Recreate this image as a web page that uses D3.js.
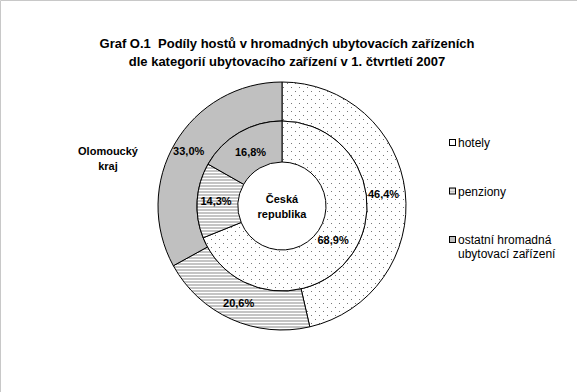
<!DOCTYPE html>
<html><head><meta charset="utf-8">
<script src="https://cdn.jsdelivr.net/npm/d3@7"></script>
<style>body{margin:0;background:#fff}svg{display:block}text{white-space:pre}</style>
</head><body>
<script>
const categories = ["hotely", "penziony", "ostatní hromadná ubytovací zařízení"];
const outerValues = [46.4, 20.6, 33.0];   // Olomoucký kraj
const innerValues = [68.9, 14.3, 16.8];   // Česká republika
const outerLabels = ["46,4%", "20,6%", "33,0%"];
const innerLabels = ["68,9%", "14,3%", "16,8%"];
const titleLines = ["Graf O.1  Podíly hostů v hromadných ubytovacích zařízeních",
                    "dle kategorií ubytovacího zařízení v 1. čtvrtletí 2007"];

const W = 577, H = 392;
const svg = d3.select("body").append("svg").attr("width", W).attr("height", H)
  .style("font-family", "Arial, 'Liberation Sans', sans-serif");

const defs = svg.append("defs");
const dots = defs.append("pattern").attr("id", "dots").attr("patternUnits", "userSpaceOnUse")
  .attr("width", 8).attr("height", 8);
dots.append("rect").attr("width", 8).attr("height", 8).attr("fill", "#fff");
dots.append("rect").attr("x", 1).attr("y", 1).attr("width", 1).attr("height", 1).attr("fill", "#777");
dots.append("rect").attr("x", 5).attr("y", 5).attr("width", 1).attr("height", 1).attr("fill", "#777");
const stripes = defs.append("pattern").attr("id", "stripes").attr("patternUnits", "userSpaceOnUse")
  .attr("width", 8).attr("height", 3);
stripes.append("rect").attr("width", 8).attr("height", 3).attr("fill", "#fff");
stripes.append("rect").attr("y", 0).attr("width", 8).attr("height", 2).attr("fill", "#c4c4c4");

const fills = d3.scaleOrdinal().domain(categories).range(["url(#dots)", "url(#stripes)", "#c0c0c0"]);

// border
svg.append("path").attr("d", `M0.5,${H} V0.5 H${W}`).attr("fill", "none").attr("stroke", "#c8c8c8");

// title
svg.append("text").attr("x", 287).attr("text-anchor", "middle")
  .style("font-weight", "bold").style("font-size", "13px")
  .selectAll("tspan").data(titleLines).join("tspan")
  .attr("x", 287).attr("y", (d, i) => 48 + i * 18).text(d => d);

const cx = 282, cy = 206;
const rOuter = 124, rMid = 85, rInner = 44;
const g = svg.append("g").attr("transform", `translate(${cx},${cy})`);

const pie = d3.pie().sort(null).value(d => d.v);
const mk = (vals, labs) => vals.map((v, i) => ({ v, cat: categories[i], lab: labs[i] }));

const rings = [
  { data: pie(mk(outerValues, outerLabels)), r0: rMid, r1: rOuter },
  { data: pie(mk(innerValues, innerLabels)), r0: rInner, r1: rMid }
];
rings.forEach(ring => {
  const arc = d3.arc().innerRadius(ring.r0).outerRadius(ring.r1);
  g.append("g").selectAll("path").data(ring.data).join("path")
    .attr("d", arc).attr("fill", d => fills(d.data.cat))
    .attr("stroke", "#000").attr("stroke-width", 1);
});

// label radial positions within each ring
const labelArc = (r0, r1, k) => d3.arc().innerRadius(r0 + (r1 - r0) * k).outerRadius(r0 + (r1 - r0) * k);
const outerPos = [0.44, 0.54, 0.6];
const innerPos = [0.43, 0.54, 0.45];
function drawLabels(ring, pos) {
  g.append("g").selectAll("text").data(ring.data).join("text")
    .attr("transform", (d, i) => {
      const c = labelArc(ring.r0, ring.r1, pos[i]).centroid(d);
      return `translate(${c[0]},${c[1]})`;
    })
    .attr("text-anchor", "middle").attr("dy", "0.35em")
    .style("font-weight", "bold").style("font-size", "11px")
    .text(d => d.data.lab);
}
drawLabels(rings[0], outerPos);
drawLabels(rings[1], innerPos);

// centre label
g.append("text").attr("text-anchor", "middle").style("font-weight", "bold").style("font-size", "11px")
  .selectAll("tspan").data(["Česká", "republika"]).join("tspan")
  .attr("x", 0).attr("y", (d, i) => -3 + i * 15).text(d => d);

// region label
svg.append("text").attr("text-anchor", "middle").style("font-weight", "bold").style("font-size", "11px")
  .selectAll("tspan").data(["Olomoucký", "kraj"]).join("tspan")
  .attr("x", 108).attr("y", (d, i) => 155 + i * 15).text(d => d);

// legend
const legendLines = [["hotely"], ["penziony"], ["ostatní hromadná", "ubytovací zařízení"]];
const lg = svg.append("g").selectAll("g").data(categories).join("g")
  .attr("transform", (d, i) => `translate(449,${139 + i * 48.5})`);
lg.append("rect").attr("x", 0.5).attr("y", 0.5).attr("width", 6).attr("height", 6)
  .attr("fill", d => d === categories[0] ? "#fff" : fills(d)).attr("stroke", "#000");
lg.append("text").style("font-size", "12px").attr("fill", "#000")
  .selectAll("tspan").data((d, i) => legendLines[i]).join("tspan")
  .attr("x", 9).attr("y", (d, i) => 8 + i * 14).text(d => d);
</script>
</body></html>
